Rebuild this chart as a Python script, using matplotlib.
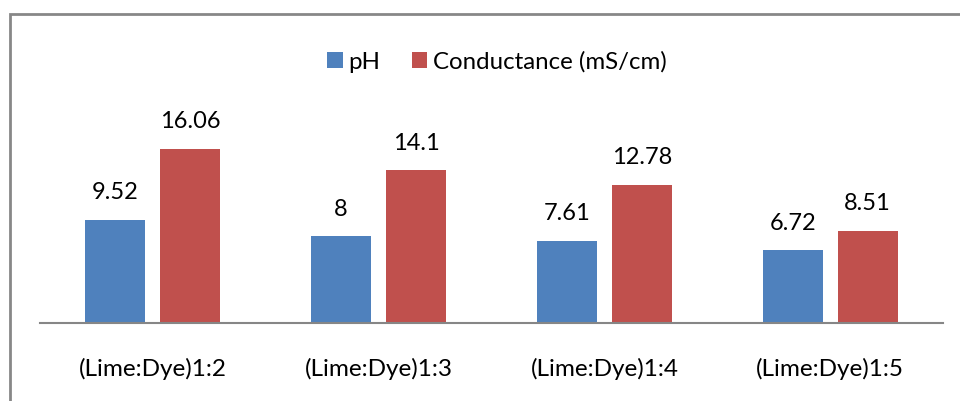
import matplotlib
matplotlib.use("Agg")
import matplotlib.pyplot as plt
from matplotlib.patches import Rectangle
import numpy as np

categories = ["(Lime:Dye)1:2", "(Lime:Dye)1:3", "(Lime:Dye)1:4", "(Lime:Dye)1:5"]
ph = [9.52, 8, 7.61, 6.72]
conductance = [16.06, 14.1, 12.78, 8.51]
ph_labels = ["9.52", "8", "7.61", "6.72"]
cond_labels = ["16.06", "14.1", "12.78", "8.51"]
series_names = ["pH", "Conductance (mS/cm)"]

plt.rcParams['font.family'] = ['Lato', 'DejaVu Sans']

W, H = 960, 401
fig = plt.figure(figsize=(W / 100, H / 100), dpi=100)

left, right = 40, 943
bottom, top = 323, 100
ax = fig.add_axes([left / W, 1 - bottom / H, (right - left) / W, (bottom - top) / H])

x = np.arange(len(categories))
bw = 0.265
off = 0.166
blue = "#4F81BD"
red = "#C0504D"
b1 = ax.bar(x - off, ph, bw, color=blue, label=series_names[0])
b2 = ax.bar(x + off, conductance, bw, color=red, label=series_names[1])

ax.set_xlim(-0.5, 3.5)
ax.set_ylim(0, (bottom - top) / 10.83)

fs = 17
for rects, labs in ((b1, ph_labels), (b2, cond_labels)):
    for r, lab in zip(rects, labs):
        ax.annotate(lab, (r.get_x() + r.get_width() / 2, r.get_height()),
                    xytext=(0, 12), textcoords="offset points",
                    ha="center", va="bottom", fontsize=fs, color="black")

for s in ["top", "right", "left"]:
    ax.spines[s].set_visible(False)
ax.spines["bottom"].set_color("#868686")
ax.spines["bottom"].set_linewidth(1.5)
ax.set_yticks([])
ax.set_xticks(x)
ax.set_xticklabels(categories, fontsize=17.5)
ax.tick_params(axis="x", length=0, pad=25)

fig.legend(handles=[b1, b2], labels=series_names, loc="center",
           bbox_to_anchor=(497 / W, 1 - 62 / H), ncol=2, frameon=False,
           fontsize=17.3, handlelength=0.65, handleheight=0.65,
           handletextpad=0.25, columnspacing=1.3)

border = Rectangle((9.5 / W, -0.1), 2, 1 - 13.5 / H + 0.1, transform=fig.transFigure,
                   fill=False, edgecolor="#878787", linewidth=2, clip_on=False)
fig.patches.append(border)

fig.savefig("out.png", dpi=100)
